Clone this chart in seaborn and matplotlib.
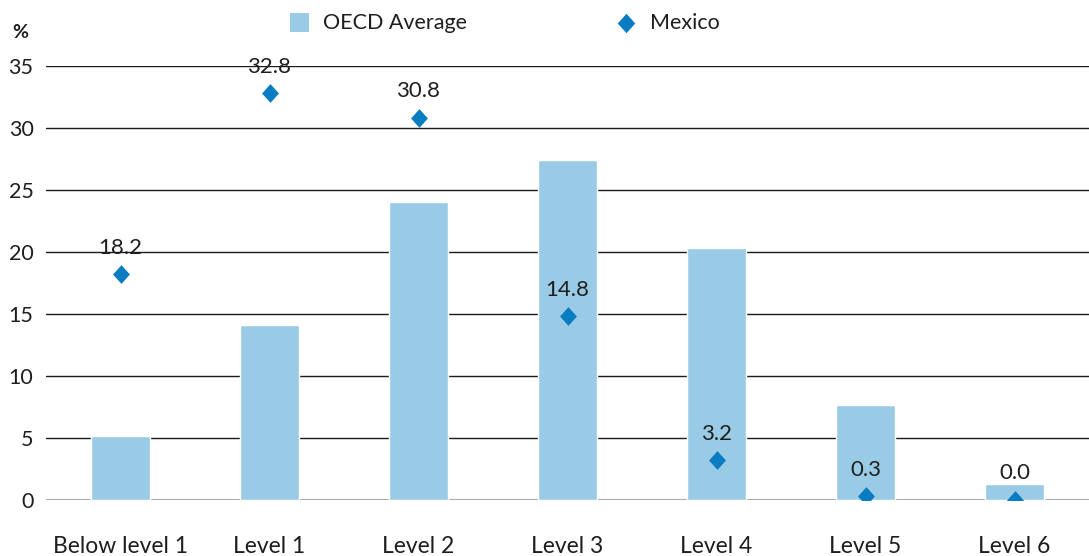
import matplotlib
matplotlib.use("Agg")
import matplotlib.pyplot as plt
import seaborn as sns
import pandas as pd
from matplotlib.lines import Line2D
from matplotlib.patches import Rectangle

categories = ["Below level 1", "Level 1", "Level 2", "Level 3", "Level 4", "Level 5", "Level 6"]
oecd_average = [5.2, 14.1, 24.0, 27.4, 20.3, 7.7, 1.3]
mexico = [18.2, 32.8, 30.8, 14.8, 3.2, 0.3, 0.0]
yticks = [0, 5, 10, 15, 20, 25, 30, 35]

sns.set_theme(style="white")
plt.rcParams['font.family'] = ['Lato', 'DejaVu Sans']

W, H = 1089, 556
bar_color = "#9ACBE6"
mex_color = "#0A7CC1"
text_color = "#1E1E1E"
diamond = [(0, 1), (0.9, 0), (0, -1), (-0.9, 0), (0, 1)]

df = pd.DataFrame({"cat": categories, "oecd": oecd_average, "mex": mexico})

fig = plt.figure(figsize=(W / 100, H / 100), dpi=100)
ax = fig.add_axes([46 / W, (H - 500) / H, 1 - 46 / W, (500 - 66) / H])

sns.barplot(data=df, x="cat", y="oecd", color=bar_color, width=0.4, saturation=1,
            ax=ax, zorder=2, order=categories)
sns.scatterplot(data=df, x="cat", y="mex", color=mex_color, marker=diamond, s=13.5 ** 2,
                linewidth=0, ax=ax, zorder=3)

for i, v in enumerate(mexico):
    ax.annotate(f"{v:.1f}", (i, v), xytext=(0, 12), textcoords="offset points",
                ha="center", va="bottom", fontsize=16, color=text_color, zorder=4)

ax.set_ylim(0, 35)
ax.set_xlim(-0.5, 6.5)
ax.set_yticks(yticks)
ax.set_yticklabels([str(t) for t in yticks])
for t in yticks:
    ax.axhline(t, color="#9a9a9a" if t == 0 else "#1a1a1a", linewidth=1.2 if t == 0 else 1.0, zorder=1)
ax.grid(False)
for s in ax.spines.values():
    s.set_visible(False)
ax.tick_params(axis="y", length=0, pad=9, labelsize=15.5, labelcolor=text_color)
ax.tick_params(axis="x", length=0, pad=26, labelsize=16.5, labelcolor=text_color)
ax.set_xlabel("")
ax.set_ylabel("")

fig.text(20 / W, 1 - 32 / H, "%", fontsize=14, fontweight="bold", ha="center", va="center",
         color=text_color)

# legend
fig.add_artist(Rectangle((290 / W, 1 - 32 / H), 19 / W, 19 / H, transform=fig.transFigure,
                         facecolor=bar_color, edgecolor="none"))
fig.text(323 / W, 1 - 23 / H, "OECD Average", fontsize=15.5, ha="left", va="center", color=text_color)
fig.add_artist(Line2D([626 / W], [1 - 23 / H], transform=fig.transFigure, linestyle="none",
                      marker=diamond, markersize=14, color=mex_color, markeredgewidth=0))
fig.text(650 / W, 1 - 23 / H, "Mexico", fontsize=15.5, ha="left", va="center", color=text_color)

fig.savefig("out.png", dpi=100)
